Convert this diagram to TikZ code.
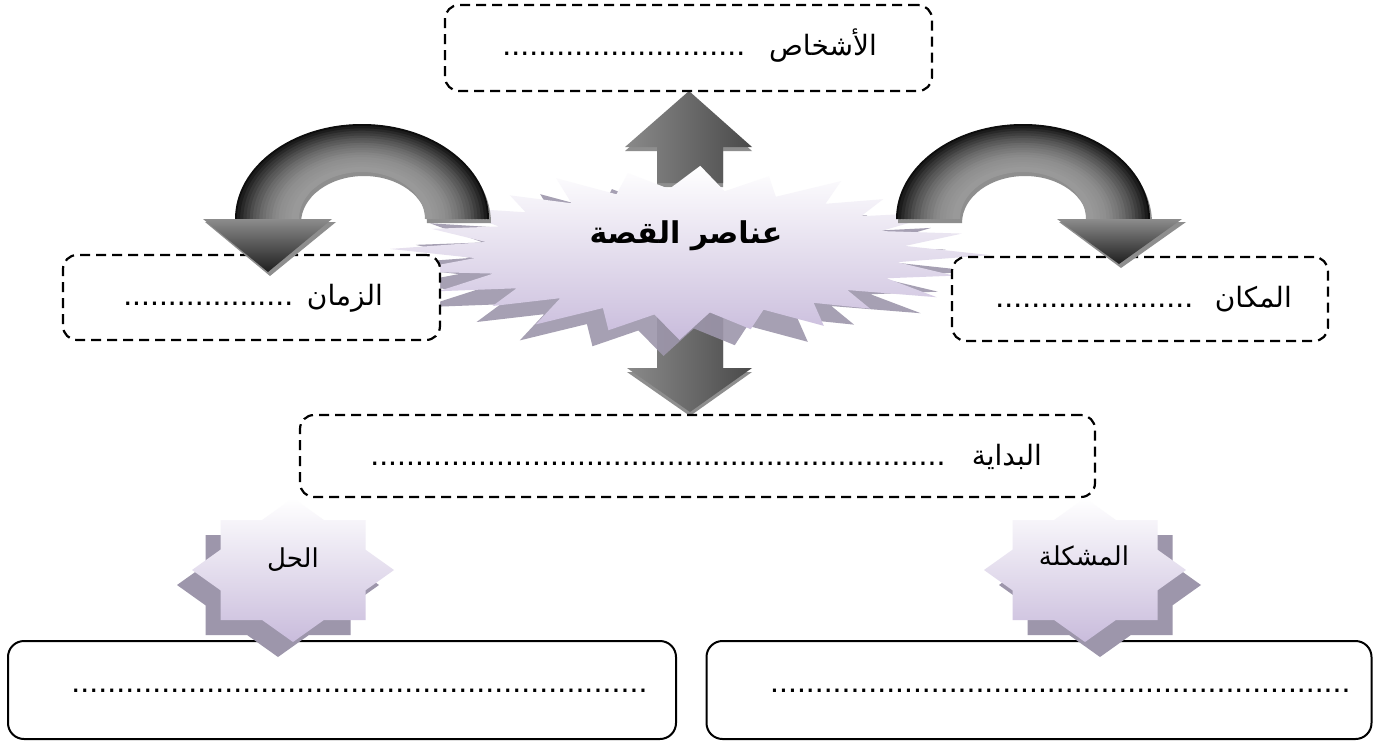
\documentclass[tikz,border=0pt]{standalone}
\usepackage{fontspec}
\setmainfont{Liberation Sans}
\newfontfamily\arabicfont[Script=Arabic]{DejaVu Sans}
\TeXXeTstate=1
\definecolor{starshadow}{HTML}{9D96AB}
\definecolor{lavtop}{HTML}{FFFFFF}
\definecolor{lavbot}{HTML}{C9BCDC}
\definecolor{rimgray}{HTML}{8E8E8E}
\definecolor{arrL}{HTML}{8A8A8A}
\definecolor{arrM}{HTML}{B5B5B5}
\definecolor{arrR}{HTML}{4A4A4A}
\definecolor{headT}{HTML}{8C8C8C}
\definecolor{headB}{HTML}{1E1E1E}
\newcommand\dotrow[1]{\hbox to #1{\fontsize{32}{32}\selectfont\xleaders\hbox{.}\hfill}}
\newcommand\bigstarpath{(2:1.00) -- (9.5:0.70) -- (17:0.92) -- (24.5:0.72) -- (32:0.97) -- (39.5:0.68) -- (47:0.88) -- (54.5:0.71) -- (62:0.95) -- (69.5:0.70) -- (77:0.90) -- (84.5:0.69) -- (92:1.00) -- (99.5:0.72) -- (107:0.93) -- (114.5:0.70) -- (122:0.97) -- (129.5:0.68) -- (137:0.90) -- (144.5:0.71) -- (152:0.95) -- (159.5:0.70) -- (167:0.98) -- (174.5:0.72) -- (182:1.00) -- (189.5:0.69) -- (197:0.90) -- (204.5:0.70) -- (212:0.96) -- (219.5:0.71) -- (227:0.88) -- (234.5:0.68) -- (242:0.95) -- (249.5:0.70) -- (257:0.92) -- (264.5:0.72) -- (272:0.98) -- (279.5:0.70) -- (287:0.90) -- (294.5:0.69) -- (302:0.95) -- (309.5:0.71) -- (317:0.88) -- (324.5:0.70) -- (332:0.97) -- (339.5:0.68) -- (347:0.93) -- (354.5:0.72) -- cycle}
\newcommand\octpath{(101,0) -- (72.5,-20.3) -- (72.5,-50) -- (30.9,-50) -- (0,-72) -- (-30.9,-50) -- (-72.5,-50) -- (-72.5,-20.3) -- (-101,0) -- (-72.5,20.3) -- (-72.5,50) -- (-30.9,50) -- (0,72) -- (30.9,50) -- (72.5,50) -- (72.5,20.3) -- cycle}
\newcommand\archband[1]{% #1 = center x
  (#1-127,219) arc[start angle=180,end angle=360,x radius=127,y radius=95]
  -- (#1+63,219) arc[start angle=360,end angle=180,x radius=63,y radius=47] -- cycle}
\newcommand\archshade[1]{%
  \begin{scope}
    \clip \archband{#1};
    \foreach \t in {0,1,...,20}{
      \pgfmathsetmacro\rx{63+\t*3.2}
      \pgfmathsetmacro\ry{47+\t*2.4}
      \pgfmathtruncatemacro\c{40+55*(\t/20)*(\t/20)}
      \draw[line width=3.8pt, color=black!\c] (#1-\rx,219) arc[start angle=180,end angle=360,x radius=\rx,y radius=\ry];
    }
  \end{scope}}
\begin{document}
\begin{tikzpicture}[x=1pt,y=-1pt,
  dashbox/.style={draw=black, line width=2.2pt, dash pattern=on 10pt off 6pt, rounded corners=14pt, fill=white, inner sep=0pt},
  solidbox/.style={draw=black, line width=2pt, rounded corners=16pt, fill=white, inner sep=0pt},
  lbl/.style={font=\arabicfont\fontsize{28}{32}\selectfont, inner sep=0pt},
  starlbl/.style={font=\arabicfont\fontsize{26}{30}\selectfont, inner sep=0pt},
  dotl/.style={inner sep=0pt, anchor=base west},
  octfront/.style={top color=lavtop, bottom color=lavbot},
  octshadow/.style={fill=starshadow}]
\useasboundingbox (0,0) rectangle (1381,742);
\fill[white] (0,0) rectangle (1381,742);

% ---- straight arrows (behind the star) ----
\fill[rimgray] (657,187) -- (657,151) -- (625,151) -- (689,95) -- (752,151) -- (723,151) -- (723,187) -- cycle;
\shade[left color=arrL, middle color=arrM, right color=arrR] (657,183) -- (657,147) -- (625,147) -- (689,91) -- (752,147) -- (723,147) -- (723,183) -- cycle;
\fill[rimgray] (657,304) -- (657,372) -- (627,372) -- (690,416) -- (752,372) -- (723,372) -- (723,304) -- cycle;
\shade[left color=arrL, middle color=arrM, right color=arrR] (657,300) -- (657,368) -- (627,368) -- (690,412) -- (752,368) -- (723,368) -- (723,300) -- cycle;

% ---- central star ----
\begin{scope}[shift={(674,268)}, xscale=300, yscale=88]
  \fill[starshadow, opacity=0.9] \bigstarpath;
\end{scope}
\begin{scope}[shift={(690,252)}, xscale=300, yscale=88]
  \shade[top color=white, bottom color=lavbot] \bigstarpath;
\end{scope}
\node[font=\arabicfont\bfseries\fontsize{30}{34}\selectfont, inner sep=0pt, anchor=base] (title) at (686,243) {\beginR عناصر القصة\endR};

% ---- dashed boxes ----
\node[dashbox, minimum width=487pt, minimum height=86pt] (bpeople) at (688.5,48) {};
\node[dashbox, minimum width=377pt, minimum height=85pt] (btime) at (251.5,297.5) {};
\node[dashbox, minimum width=376pt, minimum height=84pt] (bplace) at (1140,299) {};
\node[dashbox, minimum width=795pt, minimum height=82pt] (bstart) at (697.5,456) {};

\node[lbl, anchor=base east] (wpeople) at (877,55) {\beginR الأشخاص\endR};
\node[dotl] (dpeople) at (502,55) {\dotrow{243pt}};
\node[lbl, anchor=base east] (wtime) at (383,305) {\beginR الزمان\endR};
\node[dotl] (dtime) at (123,305) {\dotrow{170pt}};
\node[lbl, anchor=base east] (wplace) at (1292,307) {\beginR المكان\endR};
\node[dotl] (dplace) at (995,307) {\dotrow{198pt}};
\node[lbl, anchor=base east] (wstart) at (1042,465) {\beginR البداية\endR};
\node[dotl] (dstart) at (370,465) {\dotrow{575pt}};

% ---- curved arrows ----
% left
\fill[rimgray, shift={(2,4)}] \archband{362};
\fill[rimgray] (205,222) -- (336,222) -- (270,276) -- cycle;
\archshade{362}
\shade[top color=headT, bottom color=headB] (203,219) -- (332,219) -- (268,272) -- cycle;
% right
\fill[rimgray, shift={(2,4)}] \archband{1023};
\fill[rimgray] (1059,222) -- (1186,222) -- (1121,268) -- cycle;
\archshade{1023}
\shade[top color=headT, bottom color=headB] (1057,219) -- (1182,219) -- (1119,264) -- cycle;

% ---- bottom boxes ----
\node[solidbox, minimum width=668pt, minimum height=98pt] (bsol) at (342,690) {};
\node[solidbox, minimum width=665pt, minimum height=98pt] (bprob) at (1039,690) {};
\node[dotl] (dsol) at (71,692) {\dotrow{576pt}};
\node[dotl] (dprob) at (770,692) {\dotrow{580pt}};

% ---- small stars ----
\begin{scope}[shift={(278,585)}]
  \fill[octshadow] \octpath;
\end{scope}
\begin{scope}[shift={(293,570)}]
  \shade[octfront] \octpath;
\end{scope}
\node[starlbl, anchor=base] (wsol) at (293,567) {\beginR الحل\endR};

\begin{scope}[shift={(1100,585)}]
  \fill[octshadow] \octpath;
\end{scope}
\begin{scope}[shift={(1085,570)}]
  \shade[octfront] \octpath;
\end{scope}
\node[starlbl, anchor=base] (wprob) at (1084,565) {\beginR المشكلة\endR};
\end{tikzpicture}
\end{document}
